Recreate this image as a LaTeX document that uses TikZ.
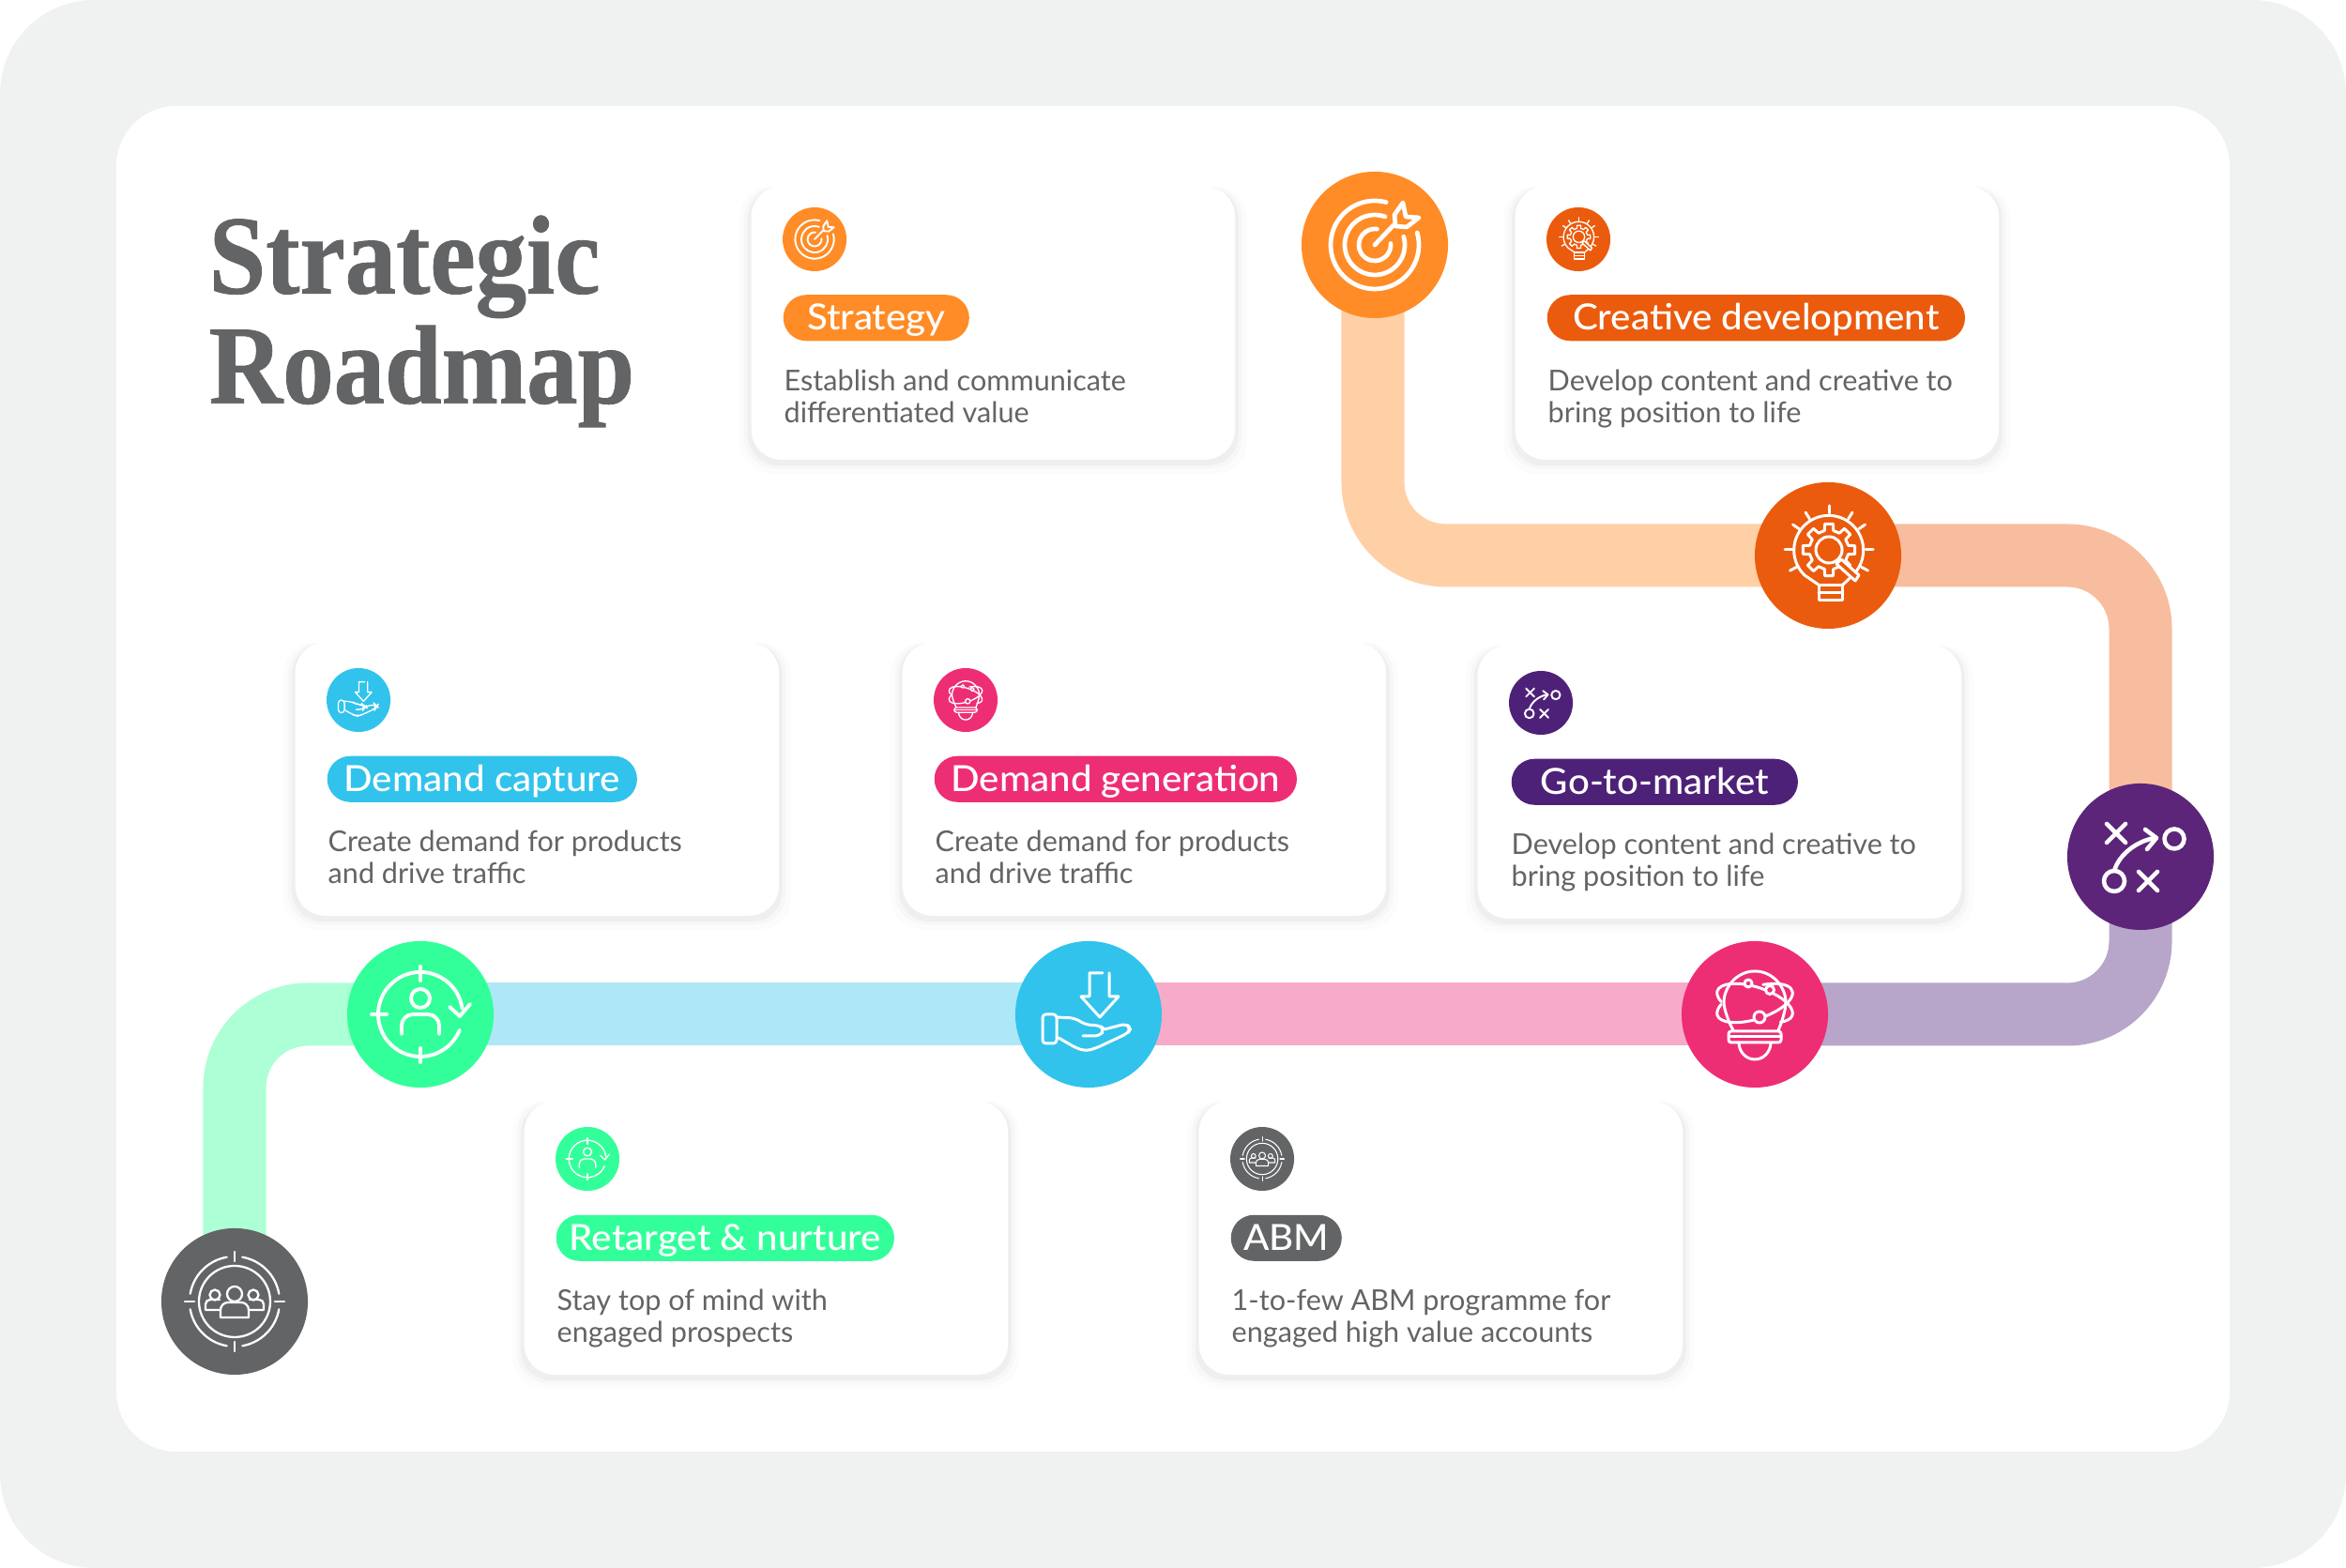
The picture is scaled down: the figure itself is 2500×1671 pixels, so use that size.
\documentclass[tikz,border=0pt]{standalone}
\usepackage{xcolor}
\usepackage{fontspec}
\setmainfont{Lato}
\newfontfamily\titlefont[FakeStretch=.91,BoldFeatures={FakeBold=.7}]{Liberation Serif}
\newfontfamily\labelfont[FakeStretch=1.05]{Lato Medium}
\usetikzlibrary{positioning,backgrounds,shadows}
\definecolor{frame}{HTML}{F0F2F1}
\definecolor{ink}{HTML}{636466}
\definecolor{strategyorange}{HTML}{FF8C26}
\definecolor{creativeorange}{HTML}{EB5B0D}
\definecolor{marketpurple}{HTML}{5C2579}
\definecolor{marketlabel}{HTML}{4E2178}
\definecolor{generationpink}{HTML}{EE2E74}
\definecolor{captureblue}{HTML}{31C3EC}
\definecolor{retargetgreen}{HTML}{33FF9A}
\definecolor{strategytrack}{HTML}{FFD0A6}
\definecolor{creativetrack}{HTML}{F8BD9E}
\definecolor{markettrack}{HTML}{B8A6CA}
\definecolor{generationtrack}{HTML}{F8ABC8}
\definecolor{capturetrack}{HTML}{AEE8F7}
\definecolor{retargettrack}{HTML}{ADFFD6}
\tikzset{
  iconline/.style={draw=white, line cap=round, line join=round},
  strategymark/.pic={
    \draw[iconline] (16:47) arc (16:-285:47);
    \draw[iconline] (16:32) arc (16:-290:32);
    \draw[iconline] (5:17) arc (5:-278:17);
    \draw[iconline] (0,0) -- (20,21);
    \draw[iconline] (30,45) -- (21,32) -- (22,20) -- (34,19) -- (47,29) -- (33,30) -- cycle;
  },
  creativemark/.pic={
    \begin{scope}[shift={(1,6)}]
    \foreach \a in {90,58,35,0,-28,122,145,180,208} {\draw[iconline] (\a:39) -- (\a:47);}
    \draw[iconline] (-10,-38) -- (-26,-27) arc (226:-46:37) -- (14,-38);
    \foreach \a in {0,45,...,315} {\draw[iconline] (\a-9:28) -- (\a+9:28) -- (\a+13:21) -- (\a+32:21) -- (\a+36:28);}
    \draw[iconline] (0,0) circle (14);
    \end{scope}
    \draw[iconline, fill=creativeorange] (14,-4) -- (33,-21) -- (29,-27) -- (9,-9) -- cycle;
    \draw[iconline] (-10,-32) rectangle (15,-48);
    \draw[iconline] (-10,-40) -- (15,-40);
  },
  marketmark/.pic={
    \draw[iconline] (-36,35) -- (-16,15);
    \draw[iconline] (-36,15) -- (-16,35);
    \draw[iconline] (36,19) circle (10.5);
    \draw[iconline] (-28,-15) .. controls (-22,5) and (0,18) .. (16,20);
    \draw[iconline] (5,29) -- (17,20) -- (7,8);
    \draw[iconline] (-28,-26) circle (11);
    \draw[iconline] (-2,-36) -- (18,-16);
    \draw[iconline] (-2,-16) -- (18,-36);
  },
  generationmark/.pic={
    \draw[iconline] (-23,-17) .. controls (-27,-10) and (-33,5) .. (-33,13) .. controls (-33,28) and (-20,46) .. (0,46) .. controls (20,46) and (33,28) .. (33,13) .. controls (33,5) and (29,-8) .. (25,-17);
    \draw[iconline, rotate around={-18:(0,12)}] (-34.4,2.25) arc (215:-40:42 and 17);
    \draw[iconline, rotate around={18:(0,12)}] (-34.4,21.75) arc (145:430:42 and 17);
    \draw[iconline, fill=generationpink] (-7,33) circle (4);
    \draw[iconline, fill=generationpink] (16,26) circle (4.5);
    \draw[iconline, fill=generationpink] (5,-3) circle (6);
    \draw[iconline, rounded corners=.8pt] (-28,-18) rectangle (28,-30);
    \draw[iconline] (-28,-24) -- (28,-24);
    \draw[iconline] (-17,-30) arc (180:360:17 and 18);
  },
  capturemark/.pic={
    \draw[iconline] (15,44) -- (1,44) -- (1,19) -- (-8,19) -- (12,-3) -- (32,19) -- (22,19) -- (22,44);
    \draw[iconline, rounded corners=1pt] (-49,0) rectangle (-34,-31);
    \draw[iconline, rounded corners=1.5pt] (-34,-3) -- (-15,-4) -- (-3,-11) -- (12,-12) -- (17,-16) -- (12,-23) -- (-6,-23);
    \draw[iconline, rounded corners=1.5pt] (17,-16) -- (40,-10) -- (45,-15) -- (42,-20) -- (8,-36) -- (-3,-39) -- (-13,-36) -- (-32,-25);
  },
  retargetmark/.pic={
    \draw[iconline] (8:45) arc (8:338:45);
    \draw[iconline] (31,8) -- (42,-2) -- (53,11);
    \draw[iconline] (0,36) -- (0,51);
    \draw[iconline] (0,-36) -- (0,-51);
    \draw[iconline] (-36,0) -- (-52,0);
    \draw[iconline] (0,17) circle (10);
    \draw[iconline] (-20,-21) -- (-20,-12) arc (180:90:12) -- (8,0) arc (90:0:12) -- (20,-21);
  },
  abmmark/.pic={
    \foreach \a in {0,90,180,270} {
      \draw[iconline] (\a:43) -- (\a:53);
      \draw[iconline] (\a+10:48) arc (\a+10:\a+80:48);
    }
    \draw[iconline] (0,0) circle (38);
    \draw[iconline] (0,8) circle (8);
    \draw[iconline] (-15,-17) -- (-15,-9) arc (180:90:8) -- (7,-1) arc (90:0:8) -- (15,-17) -- cycle;
    \draw[iconline] (-21,7) circle (5.5);
    \draw[iconline] (20,7) circle (5.5);
    \draw[iconline] (-16,-9) -- (-31,-9) -- (-31,-3) arc (180:90:5) -- (-16,2);
    \draw[iconline] (16,-9) -- (31,-9) -- (31,-3) arc (0:90:5) -- (16,2);
  },
}

\begin{document}
\begin{tikzpicture}[
  x=.01cm, y=.01cm,
  cardbox/.style={fill=white, rounded corners=.32cm, minimum width=5.15cm, minimum height=2.91cm, anchor=north west, inner sep=0pt,
    drop shadow={shadow xshift=0cm, shadow yshift=-.04cm, shadow scale=1.015, opacity=.03, fill=black},
    drop shadow={shadow xshift=0cm, shadow yshift=-.05cm, shadow scale=1.03, opacity=.02, fill=black},
    drop shadow={shadow xshift=0cm, shadow yshift=-.07cm, shadow scale=1.05, opacity=.012, fill=black}},
  stop/.style={circle, minimum size=1.56cm, inner sep=0pt},
  smallstop/.style={circle, minimum size=.68cm, inner sep=0pt},
  iconbig/.style={line width=.85pt},
  iconsmall/.style={scale=.44, line width=.38pt},
  pill/.style={rounded corners=.245cm, minimum height=.49cm, inner sep=0pt, text=white, font=\labelfont\fontsize{10.9}{12}\selectfont, text height=.28cm, text depth=.02cm},
  bodytext/.style={inner sep=0pt, align=left, text=ink, font=\fontsize{8.7}{9.67}\selectfont},
  titletext/.style={inner sep=0pt, align=left, text=ink, font=\titlefont\bfseries\fontsize{34}{33.3}\selectfont},
  trackline/.style={line width=.67cm, rounded corners=.78cm},
]
\useasboundingbox (0,0) rectangle (2500,1671);
\begin{scope}[on background layer]
\fill[frame, rounded corners=1cm] (0,0) rectangle (2500,1671);
\fill[white, rounded corners=.64cm] (124,124) rectangle (2376,1558);
\end{scope}
\node[titletext, anchor=north west] (title) at (222,1442) {Strategic\\Roadmap};
\node[stop, fill=strategyorange] (strategystop) at (1465,1410) {};
\node[stop, fill=creativeorange] (creativestop) at (1948,1079) {};
\node[stop, fill=marketpurple] (marketstop) at (2281,758) {};
\node[stop, fill=generationpink] (generationstop) at (1870,590) {};
\node[stop, fill=captureblue] (capturestop) at (1160,590) {};
\node[stop, fill=retargetgreen] (retargetstop) at (448,590) {};
\node[stop, fill=ink] (abmstop) at (250,284) {};
\pic[iconbig, line width=1.35pt] at (strategystop) {strategymark};
\pic[iconbig] at (creativestop) {creativemark};
\pic[iconbig, line width=1.3pt] at (marketstop) {marketmark};
\pic[iconbig] at (generationstop) {generationmark};
\pic[iconbig] at (capturestop) {capturemark};
\pic[iconbig, line width=1.1pt] at (retargetstop) {retargetmark};
\pic[iconbig, line width=.65pt] at (abmstop) {abmmark};
\begin{scope}[on background layer]
\draw[trackline, strategytrack] ([xshift=-.02cm]strategystop.center) |- (creativestop.center);
\draw[trackline, creativetrack] (creativestop.center) -| (marketstop.center);
\draw[trackline, markettrack] (marketstop.center) |- (generationstop.center);
\draw[trackline, generationtrack] (generationstop.center) -- (capturestop.center);
\draw[trackline, capturetrack] (capturestop.center) -- (retargetstop.center);
\draw[trackline, retargettrack] (retargetstop.center) -| (abmstop.center);
\end{scope}
\node[cardbox] (strategy) at (800,1473) {};
\node[smallstop, fill=strategyorange, below right=.57cm and .68cm of strategy.north west, anchor=center] (strategyicon) {};
\pic[iconsmall, line width=.55pt] at (strategyicon) {strategymark};
\node[pill, fill=strategyorange, minimum width=1.98cm, below right=1.155cm and .34cm of strategy.north west] (strategylabel) {Strategy};
\node[bodytext, below right=1.95cm and .35cm of strategy.north west] (strategytext) {Establish and communicate\\differentiated value};
\node[cardbox] (creative) at (1614,1473) {};
\node[smallstop, fill=creativeorange, below right=.57cm and .68cm of creative.north west, anchor=center] (creativeicon) {};
\pic[iconsmall] at (creativeicon) {creativemark};
\node[pill, fill=creativeorange, minimum width=4.45cm, below right=1.155cm and .34cm of creative.north west] (creativelabel) {Creative development};
\node[bodytext, below right=1.95cm and .35cm of creative.north west] (creativetext) {Develop content and creative to\\bring position to life};
\node[cardbox] (capture) at (314,987) {};
\node[smallstop, fill=captureblue, below right=.62cm and .68cm of capture.north west, anchor=center] (captureicon) {};
\pic[iconsmall] at (captureicon) {capturemark};
\node[pill, fill=captureblue, minimum width=3.3cm, below right=1.21cm and .34cm of capture.north west] (capturelabel) {Demand capture};
\node[bodytext, below right=2cm and .35cm of capture.north west] (capturetext) {Create demand for products\\and drive traffic};
\node[cardbox] (generation) at (961,987) {};
\node[smallstop, fill=generationpink, below right=.62cm and .68cm of generation.north west, anchor=center] (generationicon) {};
\pic[iconsmall] at (generationicon) {generationmark};
\node[pill, fill=generationpink, minimum width=3.86cm, below right=1.21cm and .34cm of generation.north west] (generationlabel) {Demand generation};
\node[bodytext, below right=2cm and .35cm of generation.north west] (generationtext) {Create demand for products\\and drive traffic};
\node[cardbox] (market) at (1574,984) {};
\node[smallstop, fill=marketlabel, below right=.62cm and .68cm of market.north west, anchor=center] (marketicon) {};
\pic[iconsmall, line width=.55pt] at (marketicon) {marketmark};
\node[pill, fill=marketlabel, minimum width=3.05cm, below right=1.21cm and .36cm of market.north west] (marketname) {Go-to-market};
\node[bodytext, below right=2cm and .36cm of market.north west] (markettext) {Develop content and creative to\\bring position to life};
\node[cardbox] (retarget) at (558,498) {};
\node[smallstop, fill=retargetgreen, below right=.62cm and .68cm of retarget.north west, anchor=center] (retargeticon) {};
\pic[iconsmall] at (retargeticon) {retargetmark};
\node[pill, fill=retargetgreen, minimum width=3.6cm, below right=1.21cm and .34cm of retarget.north west] (retargetlabel) {Retarget \& nurture};
\node[bodytext, below right=2cm and .35cm of retarget.north west] (retargettext) {Stay top of mind with\\engaged prospects};
\node[cardbox] (abm) at (1277,498) {};
\node[smallstop, fill=ink, below right=.62cm and .68cm of abm.north west, anchor=center] (abmicon) {};
\pic[iconsmall, line width=.3pt] at (abmicon) {abmmark};
\node[pill, fill=ink, minimum width=1.18cm, below right=1.21cm and .34cm of abm.north west] (abmlabel) {ABM};
\node[bodytext, below right=2cm and .35cm of abm.north west] (abmtext) {1-to-few ABM programme for\\engaged high value accounts};
\end{tikzpicture}
\end{document}
